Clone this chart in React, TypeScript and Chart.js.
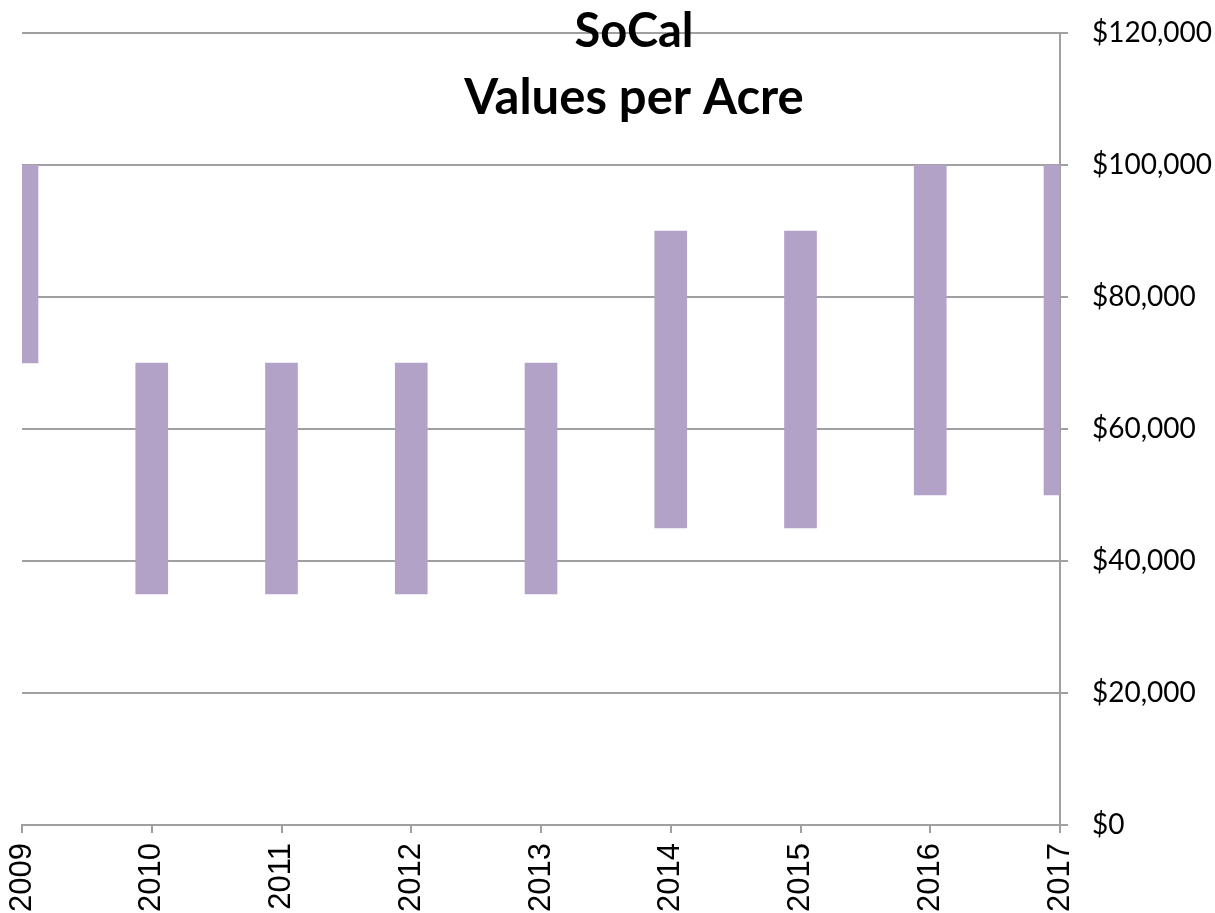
import React, { useEffect, useRef } from "react";
import { Chart, registerables } from "chart.js";

Chart.register(...registerables);

const years = ["2009", "2010", "2011", "2012", "2013", "2014", "2015", "2016", "2017"];
const lowValues = [70000, 35000, 35000, 35000, 35000, 45000, 45000, 50000, 50000];
const highValues = [100000, 70000, 70000, 70000, 70000, 90000, 90000, 100000, 100000];
const titleLines = ["SoCal", "Values per Acre"];

const GRID = "#a0a0a0";

const titlePlugin = {
  id: "overlayTitle",
  afterDraw(chart: any) {
    const ctx = chart.ctx;
    ctx.save();
    ctx.fillStyle = "#000";
    ctx.textAlign = "center";
    ctx.textBaseline = "alphabetic";
    ctx.font = "bold 47px Lato, 'Open Sans', sans-serif";
    ctx.fillText(titleLines[0], 634, 47);
    ctx.font = "bold 49px Lato, 'Open Sans', sans-serif";
    ctx.fillText(titleLines[1], 634, 114);
    ctx.restore();
  },
};

export default function App() {
  const ref = useRef<HTMLCanvasElement>(null);
  useEffect(() => {
    document.body.style.margin = "0";
    const data = years.map((_, i) => [lowValues[i], highValues[i]]);
    const chart = new Chart(ref.current!, {
      type: "bar",
      data: {
        labels: years,
        datasets: [
          {
            data: data as any,
            backgroundColor: "#b2a2c8",
            borderWidth: 0,
            barThickness: 32,
          },
        ],
      },
      options: {
        animation: false,
        responsive: false,
        maintainAspectRatio: false,
        layout: { padding: { left: 22, top: 33, right: 0, bottom: 0 } },
        plugins: { legend: { display: false }, tooltip: { enabled: false }, title: { display: false } },
        scales: {
          x: {
            type: "category",
            offset: false,
            grid: { display: true, offset: false, drawOnChartArea: false, drawTicks: true, tickLength: 8, color: GRID, lineWidth: 2 },
            border: { display: true, color: GRID, width: 2 },
            ticks: {
              autoSkip: false,
              maxRotation: 90,
              minRotation: 90,
              padding: 10,
              color: "#000",
              font: { family: "Arial, 'Liberation Sans', sans-serif", size: 31 },
            },
            afterFit(scale: any) {
              scale.height = 88;
            },
          },
          y: {
            position: "right",
            min: 0,
            max: 120000,
            grid: { color: GRID, lineWidth: 2, tickLength: 8, drawTicks: true },
            border: { display: true, color: GRID, width: 2 },
            ticks: {
              stepSize: 20000,
              padding: 24,
              color: "#000",
              font: { family: "Lato, 'Open Sans', sans-serif", size: 28 },
              callback: (v: any) => "$" + Number(v).toLocaleString("en-US"),
            },
            afterFit(scale: any) {
              scale.width = 155;
              scale.paddingTop = 0;
              scale.paddingBottom = 0;
            },
          },
        },
      },
      plugins: [titlePlugin],
    });
    return () => chart.destroy();
  }, []);
  return (
    <div style={{ width: 1215, height: 913 }}>
      <canvas ref={ref} width={1215} height={913} style={{ display: "block" }} />
    </div>
  );
}
